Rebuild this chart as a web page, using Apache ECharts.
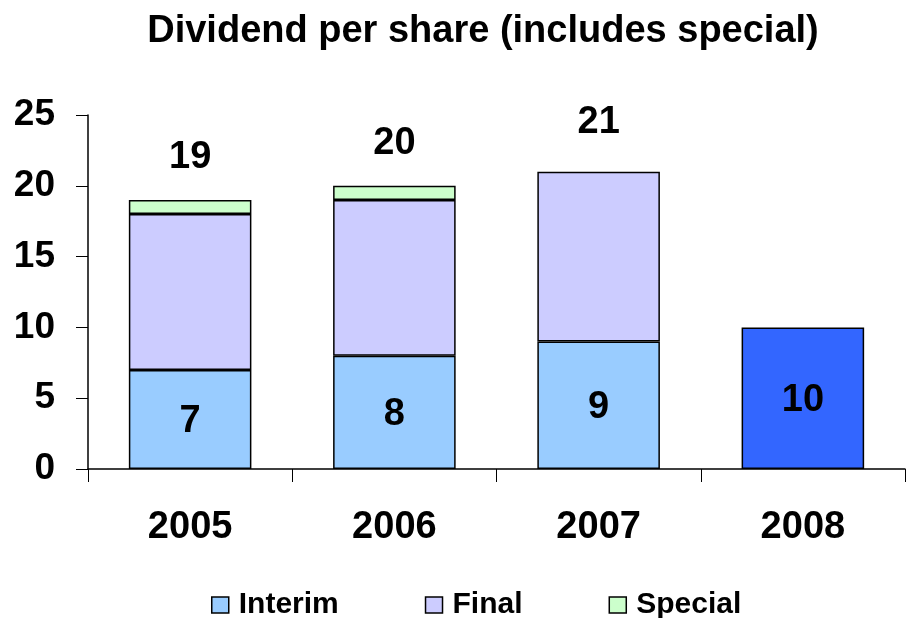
<!DOCTYPE html>
<html>
<head>
<meta charset="utf-8">
<script src="https://cdn.jsdelivr.net/npm/echarts@6/dist/echarts.min.js"></script>
<style>
  html, body { margin: 0; padding: 0; background: #fff; }
  #chart { width: 906px; height: 618px; }
</style>
</head>
<body>
<div id="chart"></div>
<script>
// values
var years = ['2005', '2006', '2007', '2008']
var interim = [7, 8, 9, 10]
var final = [11, 11, 12, '-']
var special = [1, 1, '-', '-']
var totals = [19, 20, 21, '-']
var yTicks = [0, 5, 10, 15, 20, 25]

var font = 'Liberation Sans, Arial, sans-serif'
var barBorder = { borderColor: '#000', borderWidth: 1.5 }

var myChart = echarts.init(document.getElementById('chart'))

var option = {
  animation: false,
  title: {
    text: 'Dividend per share (includes special)',
    left: 483,
    textAlign: 'center',
    top: 13,
    padding: 0,
    textStyle: { fontFamily: font, fontWeight: 'bold', fontSize: 38, color: '#000' }
  },
  legend: {
    data: ['Interim', 'Final', 'Special'],
    left: 211,
    top: 590,
    padding: 0,
    icon: 'rect',
    itemWidth: 17,
    itemHeight: 16,
    itemGap: 86,
    itemStyle: { borderColor: '#000', borderWidth: 1.5 },
    textStyle: { fontFamily: font, fontWeight: 'bold', fontSize: 30, color: '#000', padding: [0, 0, 0, 5] }
  },
  grid: { left: 88, right: 1, top: 115, bottom: 149, containLabel: false },
  xAxis: {
    type: 'category',
    data: years,
    axisLine: { lineStyle: { color: '#000', width: 1.5 } },
    axisTick: { show: true, length: 13, lineStyle: { color: '#000' } },
    axisLabel: { margin: 40, fontFamily: font, fontWeight: 'bold', fontSize: 38, color: '#000' }
  },
  yAxis: {
    type: 'value',
    min: yTicks[0],
    max: yTicks[yTicks.length - 1],
    interval: 5,
    splitLine: { show: false },
    axisLine: { show: true, lineStyle: { color: '#000', width: 1.5 } },
    axisTick: { show: true, length: 12, lineStyle: { color: '#000' } },
    axisLabel: { margin: 33, fontFamily: font, fontWeight: 'bold', fontSize: 37, color: '#000' }
  },
  series: [
    {
      name: 'Interim',
      type: 'bar',
      stack: 'dps',
      barWidth: '60%',
      itemStyle: Object.assign({ color: '#99CCFF' }, barBorder),
      label: { show: true, position: 'inside', offset: [0, 2], fontFamily: font, fontWeight: 'bold', fontSize: 38, color: '#000' },
      data: interim.map(function (v, i) {
        return i === 3 ? { value: v, itemStyle: { color: '#3366FF' } } : v
      })
    },
    {
      name: 'Final',
      type: 'bar',
      stack: 'dps',
      itemStyle: Object.assign({ color: '#CCCCFF' }, barBorder),
      data: final
    },
    {
      name: 'Special',
      type: 'bar',
      stack: 'dps',
      itemStyle: Object.assign({ color: '#CCFFCC' }, barBorder),
      data: special
    },
    {
      name: 'Total',
      type: 'scatter',
      symbolSize: 1,
      itemStyle: { color: 'rgba(0,0,0,0)', opacity: 1 },
      silent: true,
      label: {
        show: true, position: 'top', distance: 23,
        fontFamily: font, fontWeight: 'bold', fontSize: 38, color: '#000'
      },
      data: totals.map(function (v, i) {
        return i === 2 ? { value: v, label: { distance: 30 } } : v
      })
    }
  ]
}

myChart.setOption(option)
</script>
</body>
</html>
